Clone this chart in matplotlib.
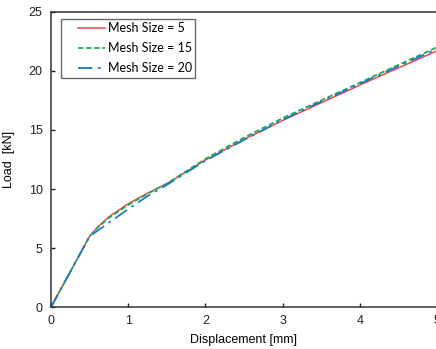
import numpy as np
import matplotlib.pyplot as plt
from matplotlib.lines import Line2D
from matplotlib.legend_handler import HandlerLine2D

plt.rcParams['font.family'] = ['Liberation Sans', 'DejaVu Sans']

# displacement [mm]
disp = [0, 0.25, 0.5, 0.6, 0.75, 1.0, 1.25, 1.5, 2.0, 2.5, 3.0, 3.5, 4.0, 4.5, 5.0]

# load [kN]
load_5 = [0, 3.0, 6.0, 6.75, 7.65, 8.75, 9.65, 10.45, 12.45, 14.2, 15.8, 17.3, 18.8, 20.25, 21.7]
load_15 = [0, 3.0, 6.0, 6.7, 7.55, 8.65, 9.6, 10.45, 12.55, 14.35, 16.0, 17.5, 19.0, 20.5, 22.0]
load_20 = [0, 3.0, 6.0, 6.45, 7.15, 8.3, 9.4, 10.35, 12.4, 14.15, 15.85, 17.4, 18.9, 20.4, 21.85]

fig = plt.figure(figsize=(4.36, 3.49), dpi=100)
ax = fig.add_axes([0.117, 0.12, 0.885, 0.846])

ax.plot(disp, load_5, color="#f0474a", lw=1.1, label="Mesh Size = 5")
ax.plot(disp, load_15, color="#1fae55", lw=1.3, ls=(0, (3, 1.5)), label="Mesh Size = 15")
ax.plot(disp, load_20, color="#1f78c8", lw=1.3, ls=(0, (8, 3, 1.5, 3)), label="Mesh Size = 20")

ax.set_xlim(0, 5)
ax.set_ylim(0, 25)
ax.set_xticks([0, 1, 2, 3, 4, 5])
ax.set_yticks([0, 5, 10, 15, 20, 25])
ax.tick_params(direction="in", length=3, width=1, labelsize=9, colors="#222222", pad=6)
ax.spines["right"].set_visible(False)
for s in ["left", "bottom", "top"]:
    ax.spines[s].set_color("#333333")
    ax.spines[s].set_linewidth(1.1)

ax.set_xlabel("Displacement [mm]", fontsize=9, labelpad=5)
ax.set_ylabel("Load  [kN]", fontsize=9, labelpad=10)

leg = ax.legend(loc="upper left", bbox_to_anchor=(0.026, 0.976), borderaxespad=0,
                prop={"family": "Lato", "size": 9}, frameon=True,
                fancybox=False, edgecolor="#444444", handlelength=3.2, handletextpad=0.24,
                borderpad=0.28, labelspacing=0.64,
                handler_map={Line2D: HandlerLine2D(xpad=1.04)})
leg.get_frame().set_linewidth(1.0)

fig.savefig("out.png", dpi=100)
